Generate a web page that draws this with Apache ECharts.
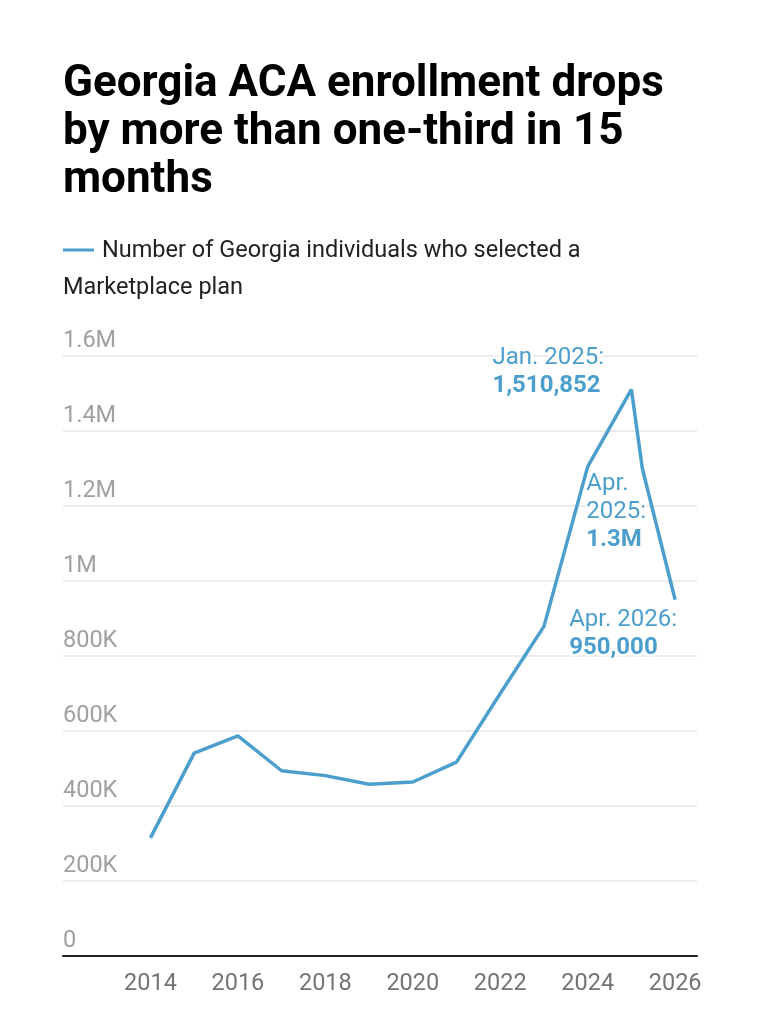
<!DOCTYPE html>
<html>
<head>
<meta charset="utf-8">
<script src="https://cdn.jsdelivr.net/npm/echarts@6/dist/echarts.min.js"></script>
<style>
  html, body { margin: 0; padding: 0; background: #fff; }
  #chart { width: 764px; height: 1016px; }
</style>
</head>
<body>
<div id="chart"></div>
<script>
// enrollment period (decimal year) and people who picked a plan
var years = [2014, 2015, 2016, 2017, 2018, 2019, 2020, 2021, 2022, 2023, 2024, 2025, 2025.25, 2026];
var enrollment = [315000, 541000, 587000, 494000, 481000, 458000, 464000, 517000, 700000, 879000, 1305000, 1510852, 1300000, 950000];

var tickYears = [2014, 2016, 2018, 2020, 2022, 2024, 2026];

// callouts next to the line
var notes = [
  { x: 2025, y: 1510852, head: 'Jan. 2025:', value: '1,510,852', off: [-139, -45] },
  { x: 2025.25, y: 1300000, head: 'Apr.\n2025:', value: '1.3M', off: [-56, 1] },
  { x: 2026, y: 950000, head: 'Apr. 2026:', value: '950,000', off: [-106, 6] }
];

var blue = '#4c9fcd';
var font = 'Roboto';

var chart = echarts.init(document.getElementById('chart'), null, { renderer: 'canvas' });

function yFmt(v) {
  if (v === 0) return '0';
  if (v >= 1000000) return (v / 1000000) + 'M';
  return (v / 1000) + 'K';
}

var option = {
  backgroundColor: '#fff',
  animation: false,
  title: {
    text: 'Georgia ACA enrollment drops\nby more than one-third in 15\nmonths',
    left: 63,
    top: 61,
    padding: 0,
    textStyle: {
      fontFamily: font,
      fontWeight: 'bold',
      fontSize: 44,
      lineHeight: 48,
      color: '#000'
    }
  },
  graphic: [
    {
      type: 'line',
      shape: { x1: 63, y1: 250, x2: 94, y2: 250 },
      style: { stroke: blue, lineWidth: 3 }
    },
    {
      type: 'text',
      x: 102, y: 251,
      style: {
        text: 'Number of Georgia individuals who selected a',
        fontFamily: font, fontSize: 23.5, fill: '#222',
        verticalAlign: 'middle'
      }
    },
    {
      type: 'text',
      x: 63, y: 288,
      style: {
        text: 'Marketplace plan',
        fontFamily: font, fontSize: 23.5, fill: '#222',
        verticalAlign: 'middle'
      }
    }
  ],
  grid: { left: 63, right: 67, top: 356, bottom: 60 },
  xAxis: {
    type: 'value',
    min: 2012,
    max: 2026.5,
    interval: 2,
    splitLine: { show: false },
    axisTick: { show: false },
    axisLine: { show: true, onZero: false, lineStyle: { color: '#222', width: 2 } },
    axisLabel: {
      margin: 16,
      fontFamily: font,
      fontSize: 23.5,
      color: '#747474',
      showMaxLabel: false,
      formatter: function (v) { return tickYears.indexOf(v) >= 0 ? String(v) : ''; }
    }
  },
  yAxis: {
    type: 'value',
    min: 0,
    max: 1600000,
    interval: 200000,
    axisLine: { show: false },
    axisTick: { show: false },
    splitLine: { lineStyle: { color: '#e6e6e6', width: 1.5 } },
    axisLabel: {
      inside: true,
      margin: 0,
      align: 'left',
      verticalAlign: 'bottom',
      padding: [0, 0, 3, 0],
      fontFamily: font,
      fontSize: 23.5,
      color: '#a0a0a0',
      formatter: yFmt
    }
  },
  series: [{
    name: 'Number of Georgia individuals who selected a Marketplace plan',
    type: 'line',
    data: years.map(function (y, i) { return [y, enrollment[i]]; }),
    showSymbol: false,
    lineStyle: { color: blue, width: 3.5 },
    itemStyle: { color: blue },
    z: 3,
    markPoint: {
      symbol: 'circle',
      symbolSize: 0,
      silent: true,
      data: notes.map(function (n) {
        return {
          coord: [n.x, n.y],
          label: {
            show: true,
            position: n.off,
            align: 'left',
            verticalAlign: 'top',
            formatter: '{h|' + n.head.split('\n').join('}\n{h|') + '}\n{b|' + n.value + '}',
            rich: {
              h: { fontFamily: font, fontSize: 24, lineHeight: 28, color: blue,
                   textBorderColor: '#fff', textBorderWidth: 5 },
              b: { fontFamily: font, fontSize: 24, lineHeight: 28, fontWeight: 'bold', color: blue,
                   textBorderColor: '#fff', textBorderWidth: 5 }
            }
          }
        };
      })
    }
  }]
};

chart.setOption(option);
</script>
</body>
</html>
